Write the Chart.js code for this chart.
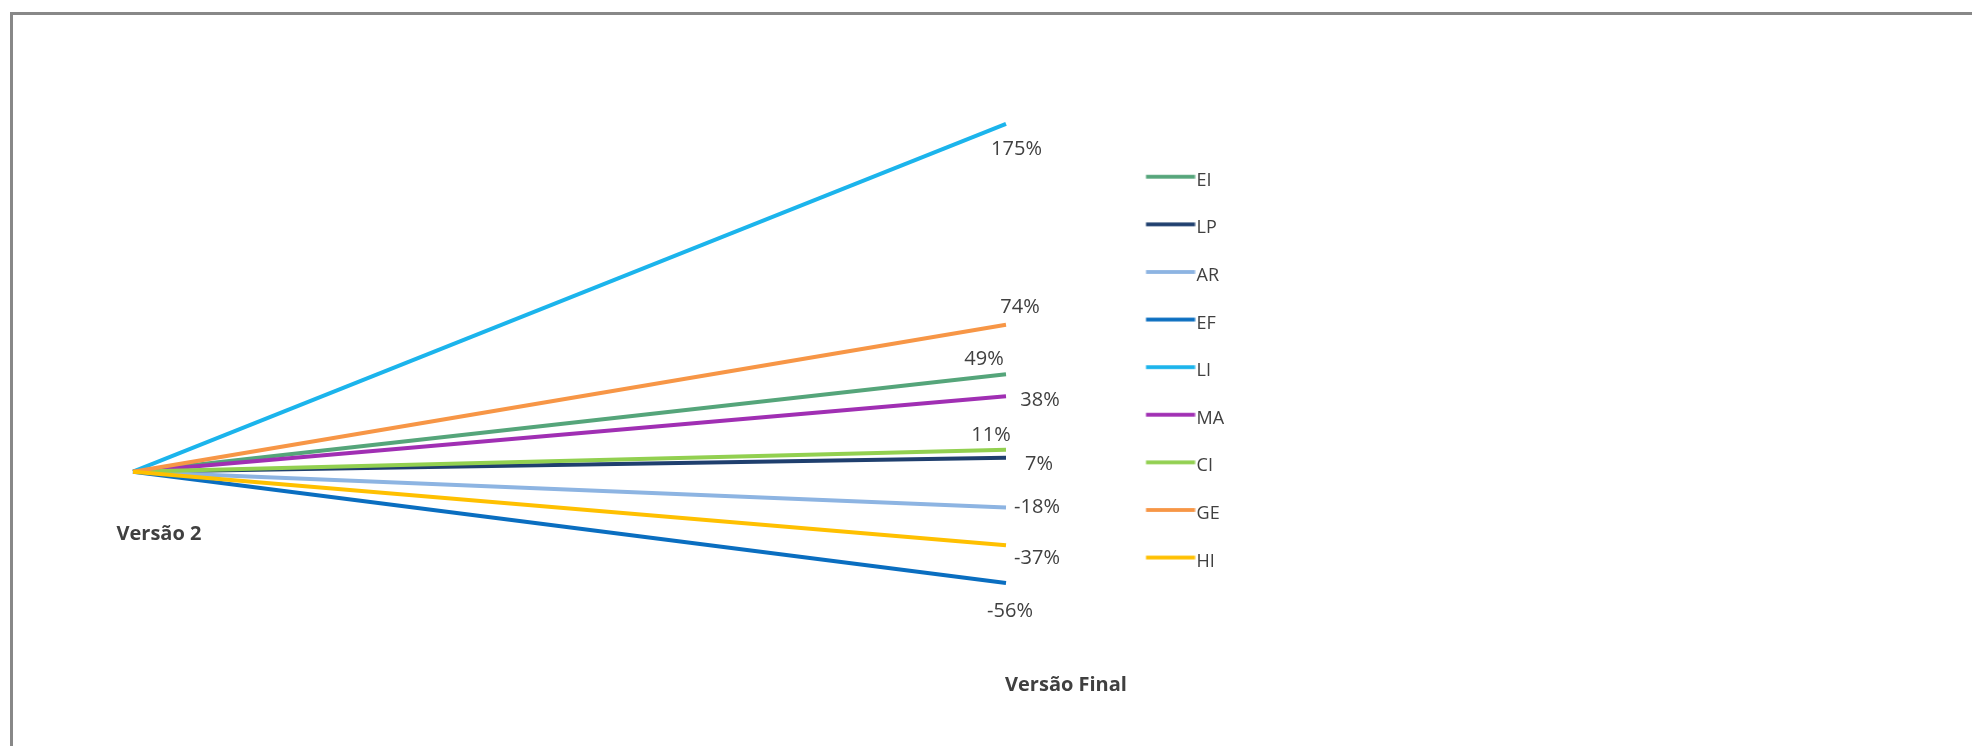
<!DOCTYPE html>
<html>
<head>
<meta charset="utf-8">
<script src="https://cdn.jsdelivr.net/npm/chart.js@4.4.1/dist/chart.umd.min.js"></script>
<style>
html, body { margin: 0; padding: 0; background: #ffffff; overflow: hidden; width: 1972px; height: 746px; }
#wrap { position: absolute; left: 0; top: 0; width: 1972px; height: 746px; }
#c { display: block; width: 1972px; height: 746px; }
#frame { position: absolute; left: 10px; top: 12px; width: 3000px; height: 3000px;
  border-left: 3px solid #888888; border-top: 3px solid #888888; pointer-events: none; }
</style>
</head>
<body>
<div id="wrap"><canvas id="c" width="1972" height="746"></canvas></div>
<div id="frame"></div>
<script>
// ---- data ----
const categories = ['Versão 2', 'Versão Final'];
const seriesNames = ['EI', 'LP', 'AR', 'EF', 'LI', 'MA', 'CI', 'GE', 'HI'];
const versao2Values = [0, 0, 0, 0, 0, 0, 0, 0, 0];
const versaoFinalValues = [49, 7, -18, -56, 175, 38, 11, 74, -37];

// ---- styles ----
const seriesColors = ['#55A57A', '#1F3F6E', '#8DB4E2', '#0A6EC0', '#1BB4EC', '#A02FB3', '#92D050', '#F79646', '#FFC000'];
const textColor = '#404040';
const fontFamily = '"Open Sans", "Liberation Sans", sans-serif';

// label offsets (px) from each series end point
const endLabelOffsets = {
  EI: [-22, -16], LP: [33, 5], AR: [31, -1.5], EF: [4, 27], LI: [10.5, 24],
  MA: [34, 3], CI: [-15, -15.5], GE: [14, -19], HI: [31, 12]
};
// category label offsets from the point at value 0
const categoryLabelOffsets = [[26, 61.3], [60, 212.3]];

// legend geometry
const LEG_PAD = 29.6, LEG_FONT = 18, LEG_BOXW = 152;
const LEG_IMG_W = 168, LEG_LINE_X = 118.4, LEG_LINE_LEN = 49;

function makeLegendImage(color) {
  const c = document.createElement('canvas');
  c.width = LEG_IMG_W; c.height = 20;
  const g = c.getContext('2d');
  g.fillStyle = color;
  g.fillRect(LEG_LINE_X, 4.1, LEG_LINE_LEN, 3.8);
  return c;
}
const legendImages = seriesColors.map(makeLegendImage);

const datasets = seriesNames.map((name, i) => ({
  label: name,
  data: [versao2Values[i], versaoFinalValues[i]],
  borderColor: seriesColors[i],
  backgroundColor: seriesColors[i],
  borderWidth: 4,
  pointRadius: 0,
  pointHoverRadius: 0,
  tension: 0,
  fill: false,
  order: seriesNames.length - i
}));

const labelsPlugin = {
  id: 'textLabels',
  afterDatasetsDraw(chart) {
    const ctx = chart.ctx;
    const xs = chart.scales.x, ys = chart.scales.y;
    ctx.save();
    ctx.fillStyle = textColor;
    ctx.textAlign = 'center';
    ctx.textBaseline = 'alphabetic';
    // end value labels
    ctx.font = '20px ' + fontFamily;
    chart.data.datasets.forEach((ds, i) => {
      const meta = chart.getDatasetMeta(i);
      const pt = meta.data[1];
      const off = endLabelOffsets[ds.label] || [0, 0];
      ctx.fillText(ds.data[1] + '%', pt.x + off[0], pt.y + off[1] + 0.357 * 20);
    });
    // category labels
    ctx.font = 'bold 20px ' + fontFamily;
    const zeroY = ys.getPixelForValue(0);
    categories.forEach((cat, i) => {
      const x = xs.getPixelForValue(i);
      const off = categoryLabelOffsets[i];
      ctx.fillText(cat, x + off[0], zeroY + off[1] + 0.357 * 20);
    });
    ctx.restore();
  }
};

new Chart(document.getElementById('c'), {
  type: 'line',
  data: { labels: categories, datasets: datasets },
  options: {
    responsive: false,
    animation: false,
    events: [],
    layout: { padding: { left: 133, top: 74.3, right: 742, bottom: 78 } },
    scales: {
      x: { type: 'category', display: false, offset: false },
      y: { display: false, min: -98.8, max: 200 }
    },
    plugins: {
      tooltip: { enabled: false },
      legend: {
        position: 'right',
        align: 'center',
        maxWidth: 224,
        labels: {
          usePointStyle: true,
          pointStyleWidth: LEG_BOXW,
          padding: LEG_PAD,
          color: textColor,
          textAlign: 'left',
          font: { family: fontFamily, size: LEG_FONT },
          generateLabels() {
            return seriesNames.map((n, i) => ({
              text: n,
              pointStyle: legendImages[i],
              fillStyle: seriesColors[i],
              strokeStyle: seriesColors[i],
              lineWidth: 0,
              hidden: false,
              datasetIndex: i,
              fontColor: textColor,
              textAlign: 'left'
            }));
          }
        }
      }
    }
  },
  plugins: [labelsPlugin]
});
</script>
</body>
</html>
